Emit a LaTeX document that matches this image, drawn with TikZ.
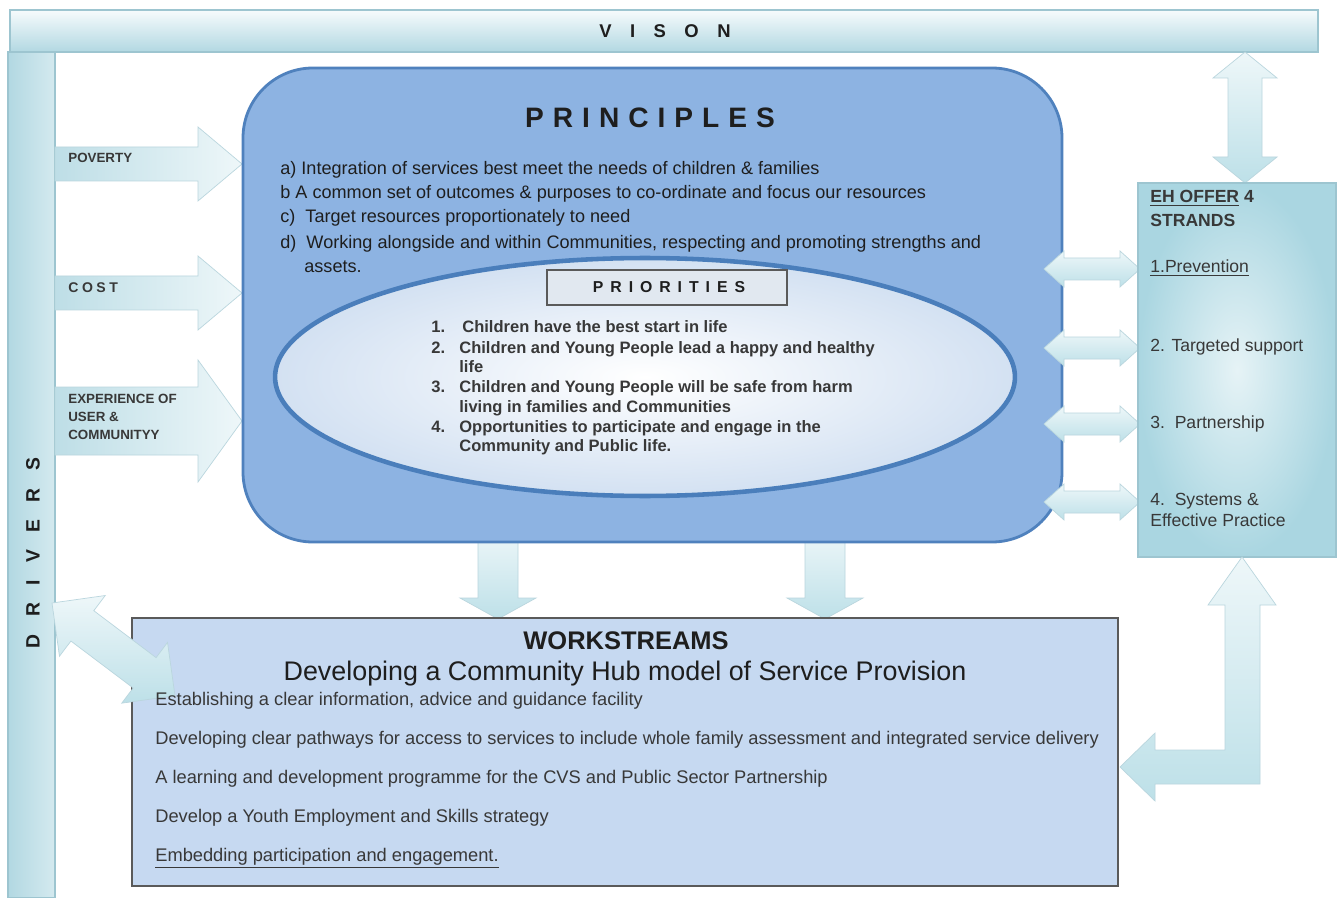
\documentclass[tikz,border=0pt]{standalone}
\usepackage{fontspec}
\setmainfont{Liberation Sans}
\usetikzlibrary{fit,shapes.geometric}
\definecolor{visionlt}{HTML}{F6FBFC}
\definecolor{visiondk}{HTML}{B2D8E2}
\definecolor{barline}{HTML}{9DC5D0}
\definecolor{arrowlt}{HTML}{EEF7F9}
\definecolor{arrowdk}{HTML}{BDE0E8}
\definecolor{princblue}{HTML}{8DB3E2}
\definecolor{princedge}{HTML}{4F81BD}
\definecolor{elledge}{HTML}{4A7EBB}
\definecolor{ellfill}{HTML}{D3E1F2}
\definecolor{priogray}{HTML}{E1E8F0}
\definecolor{wsfill}{HTML}{C6D9F1}
\definecolor{wsedge}{HTML}{5A5A5A}
\definecolor{ehlt}{HTML}{E6F3F6}
\definecolor{ehdk}{HTML}{AAD6E1}
\definecolor{txtdark}{HTML}{1E1E1E}
\definecolor{txtgray}{HTML}{383838}

\tikzset{
  visionbar/.style={top color=visionlt, bottom color=visiondk, draw=barline, line width=0.7pt, inner sep=0},
  driverbar/.style={left color=visiondk, right color=visionlt!50!visiondk, draw=barline, line width=0.7pt, inner sep=0},
  drvarrow/.style={left color=visiondk!85!white, right color=arrowlt, draw=barline!70, line width=0.4pt},
  blockarrow/.style={top color=arrowlt, bottom color=arrowdk, draw=barline!70, line width=0.4pt},
  princbox/.style={rounded corners=1.4cm, fill=princblue, draw=princedge, line width=1.6pt, inner sep=0},
  prioellipse/.style={ellipse, inner color=white, outer color=ellfill, draw=elledge, line width=2.6pt,
    minimum width=14.8cm, minimum height=4.76cm, inner sep=0},
  priobox/.style={fill=priogray, draw=wsedge, line width=1pt, inner sep=0},
  priotitle/.style={inner sep=0, text=txtdark, font=\bfseries\fontsize{9}{11}\selectfont\addfontfeature{LetterSpace=44}},
  wsbox/.style={fill=wsfill, draw=wsedge, line width=1pt, inner sep=0},
  ehbox/.style={inner color=ehlt, outer color=ehdk, draw=barline, line width=0.7pt, inner sep=0},
  drvlabel/.style={anchor=base west, inner sep=0, text=txtgray, font=\bfseries\fontsize{7.6}{9}\selectfont},
  princitem/.style={anchor=base west, inner sep=0, text=txtdark, font=\fontsize{10.3}{12}\selectfont},
  prioitem/.style={anchor=base west, inner sep=0, text=txtgray, font=\bfseries\fontsize{9.4}{11}\selectfont},
  wsitem/.style={anchor=base west, inner sep=0, text=txtgray, font=\fontsize{10.4}{12}\selectfont},
  ehitem/.style={anchor=base west, inner sep=0, text=txtgray, font=\fontsize{10}{12}\selectfont},
}

\begin{document}
\begin{tikzpicture}[x=0.02cm, y=-0.02cm, font=\fontsize{9.5}{11}\selectfont]

% page: 1341 x 898 px, y runs downwards
\useasboundingbox[fill=white] (0,0) rectangle (1341,898);

% ---- vision bar and drivers bar ----
\node[visionbar, fit={(10,10) (1318,52)}] (vision) {};
\node[inner sep=0, text=txtdark, font=\bfseries\fontsize{10.5}{12}\selectfont\addfontfeature{LetterSpace=100}]
  (visiontxt) at (665,31) {VISON};
\node[driverbar, fit={(8,52) (55,898)}] (drivers) {};
\node[inner sep=0, rotate=90, text=txtdark, font=\bfseries\fontsize{11}{12}\selectfont\addfontfeature{LetterSpace=90}]
  (driverstxt) at (33,553) {DRIVERS};

% ---- driver arrows into principles ----
\shade[drvarrow] (55,147) -- (198,147) -- (198,127) -- (242,164) -- (198,201) -- (198,181) -- (55,181) -- cycle;
\shade[drvarrow] (55,276) -- (198,276) -- (198,256) -- (242,293) -- (198,330) -- (198,310) -- (55,310) -- cycle;
\shade[drvarrow] (55,387) -- (198,387) -- (198,360) -- (242,421) -- (198,482) -- (198,455) -- (55,455) -- cycle;

\node[drvlabel] (poverty) at (68,163) {POVERTY};
\node[drvlabel, font=\bfseries\fontsize{8}{9}\selectfont\addfontfeature{LetterSpace=25}] (cost) at (68,293) {COST};
\node[drvlabel] (exp1) at (68,403) {EXPERIENCE OF};
\node[drvlabel] (exp2) at (68,421) {USER \&};
\node[drvlabel] (exp3) at (68,439) {COMMUNITYY};

% ---- arrows down to workstreams (under the principles box) ----
\foreach \xx in {498,825} {
  \shade[blockarrow] (\xx-20,530) -- (\xx+20,530) -- (\xx+20,598) -- (\xx+38,598) -- (\xx,619)
    -- (\xx-38,598) -- (\xx-20,598) -- cycle;
}

% ---- principles ----
\node[princbox, fit={(243,68) (1062,542)}] (principles) {};
\node[inner sep=0, text=txtdark, font=\bfseries\fontsize{16}{19}\selectfont\addfontfeature{LetterSpace=32}]
  (princtitle) at (650,118) {PRINCIPLES};
\node[princitem] (pa) at (280,175) {a) Integration of services best meet the needs of children \& families};
\node[princitem] (pb) at (280,199) {b A common set of outcomes \& purposes to co-ordinate and focus our resources};
\node[princitem] (pc) at (280,223) {c)\ \ Target resources proportionately to need};
\node[princitem] (pd) at (280,249) {d)\ \ Working alongside and within Communities, respecting and promoting strengths and};
\node[princitem] (pd2) at (304,273) {assets.};

% ---- priorities ellipse ----
\node[prioellipse] (prioell) at (645,377) {};
\node[priobox, fit={(547,270) (787,305)}] (priobox) {};
\node[priotitle] (priotxt) at (669,287) {PRIORITIES};
\node[prioitem] (n1) at (431,333) {1.};
\node[prioitem] (t1) at (462,333) {Children have the best start in life};
\node[prioitem] (n2) at (431,353) {2.};
\node[prioitem] (t2) at (459,353) {Children and Young People lead a happy and healthy};
\node[prioitem] (t2b) at (459,372) {life};
\node[prioitem] (n3) at (431,392) {3.};
\node[prioitem] (t3) at (459,392) {Children and Young People will be safe from harm};
\node[prioitem] (t3b) at (459,412) {living in families and Communities};
\node[prioitem] (n4) at (431,432) {4.};
\node[prioitem] (t4) at (459,432) {Opportunities to participate and engage in the};
\node[prioitem] (t4b) at (459,451) {Community and Public life.};

% ---- double arrows principles <-> strands ----
\foreach \yy in {269,348,424,502} {
  \shade[blockarrow] (1044,\yy) -- (1064,\yy-18) -- (1064,\yy-11) -- (1120,\yy-11) -- (1120,\yy-18)
    -- (1140,\yy) -- (1120,\yy+18) -- (1120,\yy+11) -- (1064,\yy+11) -- (1064,\yy+18) -- cycle;
}

% vision <-> EH offer
\shade[blockarrow] (1245,52) -- (1277,78) -- (1262,78) -- (1262,157) -- (1277,157) -- (1245,183)
  -- (1213,157) -- (1228,157) -- (1228,78) -- (1213,78) -- cycle;

% ---- EH offer box ----
\node[ehbox, fit={(1138,183) (1336,557)}] (ehoffer) {};
\node[ehitem, font=\bfseries\fontsize{10}{12}\selectfont] (eh1) at (1150,203) {\underline{EH OFFER} 4};
\node[ehitem, font=\bfseries\fontsize{10}{12}\selectfont] (eh2) at (1150,227) {STRANDS};
\node[ehitem] (s1) at (1150,273) {\underline{1.Prevention}};
\node[ehitem] (s2) at (1150,351) {2. Targeted support};
\node[ehitem] (s3) at (1150,428) {3.\ \ Partnership};
\node[ehitem] (s4) at (1150,505) {4.\ \ Systems \&};
\node[ehitem] (s4b) at (1150,526) {Effective Practice};

% EH offer -> workstreams (L arrow)
\shade[blockarrow] (1242,557) -- (1276,605) -- (1260,605) -- (1260,784) -- (1155,784) -- (1155,801)
  -- (1120,767) -- (1155,733) -- (1155,750) -- (1225,750) -- (1225,605) -- (1208,605) -- cycle;

% ---- workstreams ----
\node[wsbox, fit={(132,618) (1118,886)}] (workstreams) {};

% drivers <-> workstreams
\begin{scope}[shift={(52,603)}, rotate=-37]
  \shade[blockarrow] (0,0) -- (38,-38) -- (38,-19) -- (116,-19) -- (116,-38) -- (154,0)
    -- (116,38) -- (116,19) -- (38,19) -- (38,38) -- cycle;
\end{scope}

\node[inner sep=0, text=txtdark, font=\bfseries\fontsize{14.5}{16}\selectfont] (wstitle) at (626,641) {WORKSTREAMS};
\node[inner sep=0, anchor=base, text=txtdark, font=\fontsize{15.3}{17}\selectfont] (wssub) at (625,680)
  {Developing a Community Hub model of Service Provision};
\node[wsitem] (w1) at (155,705) {Establishing a clear information, advice and guidance facility};
\node[wsitem] (w2) at (155,744) {Developing clear pathways for access to services to include whole family assessment and integrated service delivery};
\node[wsitem] (w3) at (155,783) {A learning and development programme for the CVS and Public Sector Partnership};
\node[wsitem] (w4) at (155,822) {Develop a Youth Employment and Skills strategy};
\node[wsitem] (w5) at (155,861) {\underline{Embedding participation and engagement.}};

\end{tikzpicture}
\end{document}
